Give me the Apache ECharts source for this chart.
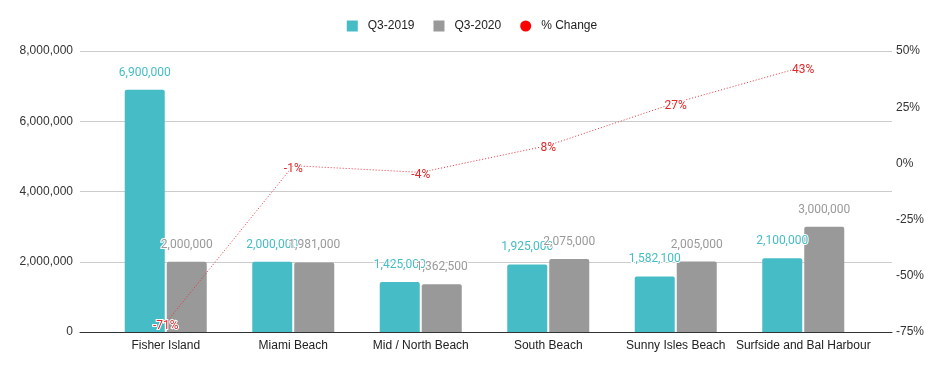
<!DOCTYPE html>
<html>
<head>
<meta charset="utf-8">
<script src="https://cdn.jsdelivr.net/npm/echarts@6/dist/echarts.min.js"></script>
<style>html,body{margin:0;padding:0;background:#fff}#c{width:944px;height:371px}</style>
</head>
<body>
<div id="c"></div>
<script>
const categories = ['Fisher Island', 'Miami Beach', 'Mid / North Beach', 'South Beach', 'Sunny Isles Beach', 'Surfside and Bal Harbour'];
const q32019 = [6900000, 2000000, 1425000, 1925000, 1582100, 2100000];
const q32020 = [2000000, 1981000, 1362500, 2075000, 2005000, 3000000];
const pctChange = [-71, -1, -4, 8, 27, 43];

const fmt = v => v.toLocaleString('en-US');
const chart = echarts.init(document.getElementById('c'));
const axisFont = 'Liberation Sans, Arial, sans-serif';
const labelFont = 'Roboto, sans-serif';

chart.setOption({
  animation: false,
  legend: {
    top: 15, left: 'center', itemWidth: 11, itemHeight: 11, itemGap: 19,
    textStyle: { fontFamily: axisFont, fontSize: 12, color: '#222', padding: [0, 0, 0, 5] },
    data: [
      { name: 'Q3-2019', icon: 'rect' },
      { name: 'Q3-2020', icon: 'rect' },
      { name: '% Change', icon: 'circle' }
    ]
  },
  grid: [
    { left: 80, right: 52, top: 51, bottom: 39 },
    { left: 102, right: 77, top: 51, bottom: 39 }
  ],
  xAxis: [
    { gridIndex: 0, type: 'category', data: [''], axisLine: { lineStyle: { color: '#333', width: 1 } }, axisTick: { show: false }, axisLabel: { show: false } },
    { gridIndex: 1, type: 'category', data: categories, axisLine: { show: false }, axisTick: { show: false },
      axisLabel: { fontFamily: axisFont, fontSize: 12, color: '#222', margin: 8, interval: 0 } }
  ],
  yAxis: [
    { gridIndex: 0, type: 'value', min: 0, max: 8000000, interval: 2000000,
      axisLabel: { formatter: v => fmt(v), fontFamily: axisFont, fontSize: 12, color: '#333', margin: 7 },
      axisLine: { show: false }, axisTick: { show: false },
      splitLine: { lineStyle: { color: '#cccccc', width: 1 } } },
    { gridIndex: 0, type: 'value', position: 'right', min: -75, max: 50, interval: 25,
      axisLabel: { formatter: v => v + '%', fontFamily: axisFont, fontSize: 12, color: '#333', margin: 4 },
      axisLine: { show: false }, axisTick: { show: false }, splitLine: { show: false } },
    { gridIndex: 1, type: 'value', min: 0, max: 8000000, interval: 2000000, show: false, splitLine: { show: false } },
    { gridIndex: 1, type: 'value', min: -75, max: 50, interval: 25, show: false, splitLine: { show: false } }
  ],
  series: [
    { name: 'Q3-2019', type: 'bar', xAxisIndex: 1, yAxisIndex: 2, data: q32019, barWidth: 40, barGap: '5%',
      itemStyle: { color: '#46bdc6', borderRadius: [2, 2, 0, 0] },
      label: { show: true, position: 'top', distance: 11, formatter: p => fmt(p.value), fontFamily: labelFont, fontSize: 12, color: '#46bdc6',
        textBorderColor: '#fff', textBorderWidth: 2 } },
    { name: 'Q3-2020', type: 'bar', xAxisIndex: 1, yAxisIndex: 2, data: q32020, barWidth: 40, barGap: '5%',
      itemStyle: { color: '#999999', borderRadius: [2, 2, 0, 0] },
      label: { show: true, position: 'top', distance: 11, formatter: p => fmt(p.value), fontFamily: labelFont, fontSize: 12, color: '#999999',
        textBorderColor: '#fff', textBorderWidth: 2 } },
    { name: '% Change', type: 'line', xAxisIndex: 1, yAxisIndex: 3, data: pctChange, z: 5,
      symbol: 'circle', symbolSize: 0.01, showSymbol: true,
      itemStyle: { color: '#ff0000' },
      lineStyle: { color: '#e8303a', width: 1, type: [1, 2] },
      label: { show: true, position: 'inside', offset: [0, 3], formatter: p => p.value + '%', fontFamily: labelFont, fontSize: 12, color: '#e02828',
        textBorderColor: '#fff', textBorderWidth: 2 } }
  ]
});
</script>
</body>
</html>
